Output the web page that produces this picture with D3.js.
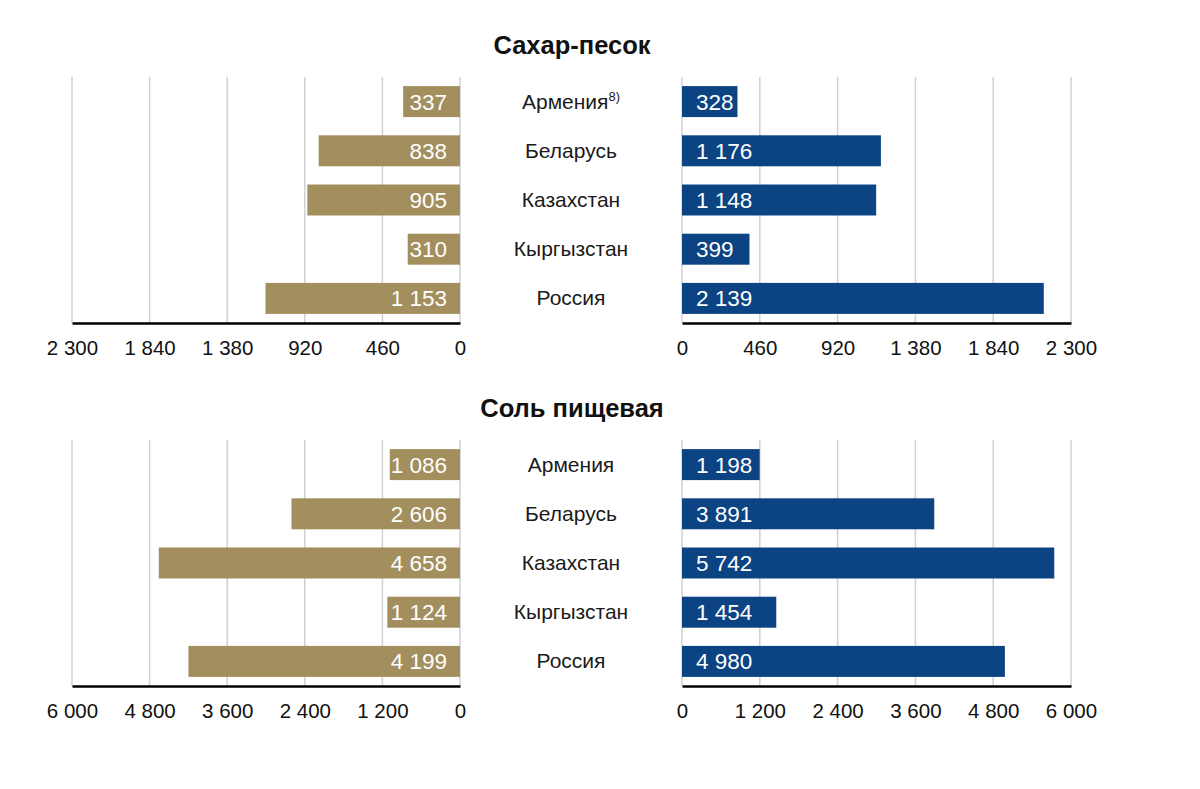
<!DOCTYPE html>
<html><head><meta charset="utf-8">
<script src="https://cdn.jsdelivr.net/npm/d3@7"></script>
<style>body{margin:0;background:#fff;}svg{display:block;font-family:"Liberation Sans",Arial,sans-serif;}</style>
</head><body>
<svg id="c" width="1200" height="789"></svg>
<script>
const categories = ["Армения", "Беларусь", "Казахстан", "Кыргызстан", "Россия"];
const titles = ["Сахар-песок", "Соль пищевая"];
const sugarLeft = [337, 838, 905, 310, 1153];
const sugarRight = [328, 1176, 1148, 399, 2139];
const saltLeft = [1086, 2606, 4658, 1124, 4199];
const saltRight = [1198, 3891, 5742, 1454, 4980];
const sugarTicks = [0, 460, 920, 1380, 1840, 2300];
const saltTicks = [0, 1200, 2400, 3600, 4800, 6000];
const footnotes = ["8)", ""];

const GOLD = "#A38E5E", BLUE = "#0C4383";
const loc = d3.formatLocale({decimal: ",", thousands: " ", grouping: [3], currency: ["", ""]});
const fmt = loc.format(",d");
const svg = d3.select("#c");

const panels = [
  {title: titles[0], left: sugarLeft, right: sugarRight, ticks: sugarTicks, top: 77, foot: footnotes[0]},
  {title: titles[1], left: saltLeft, right: saltRight, ticks: saltTicks, top: 440, foot: footnotes[1]}
];

panels.forEach(p => {
  const g = svg.append("g");
  const maxV = p.ticks[p.ticks.length - 1];
  const xL = d3.scaleLinear().domain([0, maxV]).range([460, 72]);
  const xR = d3.scaleLinear().domain([0, maxV]).range([682, 1071]);
  const y = d3.scaleBand().domain(categories).range([p.top, p.top + 246]).paddingInner(0.37).paddingOuter(0.185);
  const bottom = p.top + 246;

  g.append("text").attr("x", 572).attr("y", p.top - 23).attr("text-anchor", "middle")
    .attr("font-size", 25.5).attr("font-weight", "bold").attr("fill", "#111").text(p.title);

  [[xL, p.left, GOLD, "end"], [xR, p.right, BLUE, "start"]].forEach(([x, vals, col, anchor]) => {
    g.append("g").selectAll("line").data(p.ticks).join("line")
      .attr("x1", d => x(d)).attr("x2", d => x(d)).attr("y1", p.top).attr("y2", bottom)
      .attr("stroke", "#d0d0d0").attr("stroke-width", 1.5);
    g.append("g").selectAll("rect").data(categories).join("rect")
      .attr("x", (d, i) => Math.min(x(0), x(vals[i])))
      .attr("width", (d, i) => Math.abs(x(vals[i]) - x(0)))
      .attr("y", d => y(d)).attr("height", y.bandwidth()).attr("fill", col);
    g.append("g").selectAll("text").data(categories).join("text")
      .attr("x", anchor === "end" ? x(0) - 13 : x(0) + 14)
      .attr("y", d => y(d) + y.bandwidth() / 2 + 8)
      .attr("text-anchor", anchor).attr("font-size", 22.5).attr("fill", "#fff")
      .text((d, i) => fmt(vals[i]));
    const ax = g.append("g").attr("transform", `translate(0,${bottom})`)
      .call(d3.axisBottom(x).tickValues(p.ticks).tickSize(0).tickPadding(17).tickFormat(fmt));
    ax.select(".domain").attr("stroke", "#000").attr("stroke-width", 2.5);
    ax.selectAll("text").attr("font-size", 20.5).attr("fill", "#111")
      .attr("font-family", '"Liberation Sans",Arial,sans-serif');
  });

  const lab = g.append("g").selectAll("text").data(categories).join("text")
    .attr("x", 571).attr("y", d => y(d) + y.bandwidth() / 2 + 7)
    .attr("text-anchor", "middle").attr("font-size", 21).attr("fill", "#1a1a1a");
  lab.append("tspan").text(d => d);
  lab.filter((d, i) => i === 0 && p.foot).append("tspan")
    .attr("font-size", 13).attr("dy", -8).text(p.foot);
});
</script>
</body></html>
